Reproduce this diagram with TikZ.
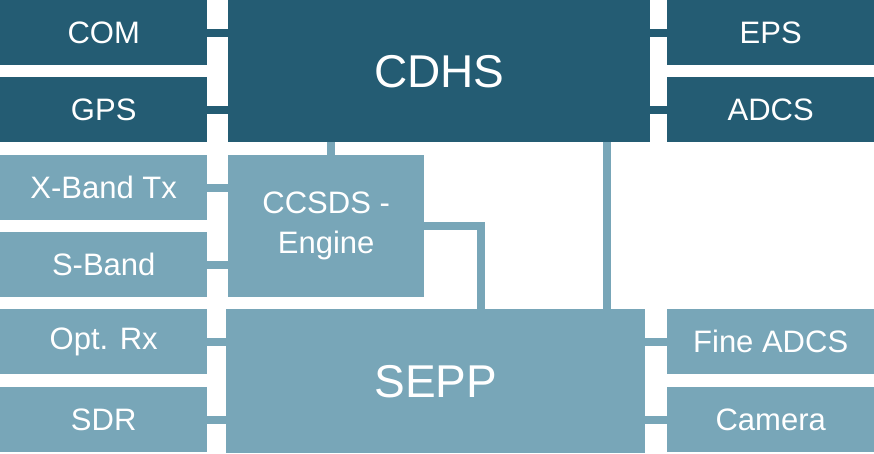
\documentclass[tikz,border=0pt]{standalone}
\usepackage{fontspec}
\setmainfont{Liberation Sans}
\usetikzlibrary{positioning}
\definecolor{darkblue}{HTML}{245C73}
\definecolor{lightblue}{HTML}{78A6B8}

\begin{document}
\begin{tikzpicture}[x=1pt, y=-1pt,
    box/.style={anchor=north west, inner sep=0pt, text=white, align=center, font=\fontsize{31}{40}\selectfont},
    bigbox/.style={box, font=\fontsize{46}{50}\selectfont},
    link/.style={line width=8pt}]
    \useasboundingbox (0,0) rectangle (874,453);

    % Define box width and height of the side columns
    \pgfmathsetmacro{\sidew}{207}
    \pgfmathsetmacro{\sideh}{65}

    % Central blocks
    \node[bigbox, fill=darkblue, minimum width=422pt, minimum height=142pt] (cdhs) at (228,0) {CDHS};
    \node[box, fill=lightblue, minimum width=196pt, minimum height=142pt] (ccsds) at (228,155) {CCSDS -\\Engine};
    \node[bigbox, fill=lightblue, minimum width=419pt, minimum height=144pt] (sepp) at (226,309) {SEPP};

    % Left column
    \node[box, fill=darkblue, minimum width=\sidew pt, minimum height=\sideh pt] (com) at (0,0) {COM};
    \node[box, fill=darkblue, minimum width=\sidew pt, minimum height=\sideh pt] (gps) at (0,77) {GPS};
    \node[box, fill=lightblue, minimum width=\sidew pt, minimum height=\sideh pt] (xband) at (0,155) {X-Band Tx};
    \node[box, fill=lightblue, minimum width=\sidew pt, minimum height=\sideh pt] (sband) at (0,232) {S-Band};
    \node[box, fill=lightblue, minimum width=\sidew pt, minimum height=\sideh pt] (optrx) at (0,309) {Opt. Rx};
    \node[box, fill=lightblue, minimum width=\sidew pt, minimum height=\sideh pt] (sdr) at (0,387) {SDR};

    % Right column
    \node[box, fill=darkblue, minimum width=\sidew pt, minimum height=\sideh pt] (eps) at (667,0) {EPS};
    \node[box, fill=darkblue, minimum width=\sidew pt, minimum height=\sideh pt] (adcs) at (667,77) {ADCS};
    \node[box, fill=lightblue, minimum width=\sidew pt, minimum height=\sideh pt] (fineadcs) at (667,309) {Fine ADCS};
    \node[box, fill=lightblue, minimum width=\sidew pt, minimum height=\sideh pt] (camera) at (667,387) {Camera};

    % Stubs to the central blocks
    \draw[link, darkblue] (com.east) -- (com.east -| cdhs.west);
    \draw[link, darkblue] (gps.east) -- (gps.east -| cdhs.west);
    \draw[link, lightblue] (xband.east) -- (xband.east -| ccsds.west);
    \draw[link, lightblue] (sband.east) -- (sband.east -| ccsds.west);
    \draw[link, lightblue] (optrx.east) -- (optrx.east -| sepp.west);
    \draw[link, lightblue] (sdr.east) -- (sdr.east -| sepp.west);
    \draw[link, darkblue] (eps.west) -- (eps.west -| cdhs.east);
    \draw[link, darkblue] (adcs.west) -- (adcs.west -| cdhs.east);
    \draw[link, lightblue] (fineadcs.west) -- (fineadcs.west -| sepp.east);
    \draw[link, lightblue] (camera.west) -- (camera.west -| sepp.east);

    % Internal connections
    \coordinate (cc) at (331,142);
    \coordinate (cs) at (607,142);
    \coordinate (bend) at (481,226);
    \draw[link, lightblue] (cc) -- (cc |- ccsds.north);
    \draw[link, lightblue] (cs) -- (cs |- sepp.north);
    \draw[link, lightblue] (bend -| ccsds.east) -- (bend) -- (bend |- sepp.north);
\end{tikzpicture}
\end{document}
